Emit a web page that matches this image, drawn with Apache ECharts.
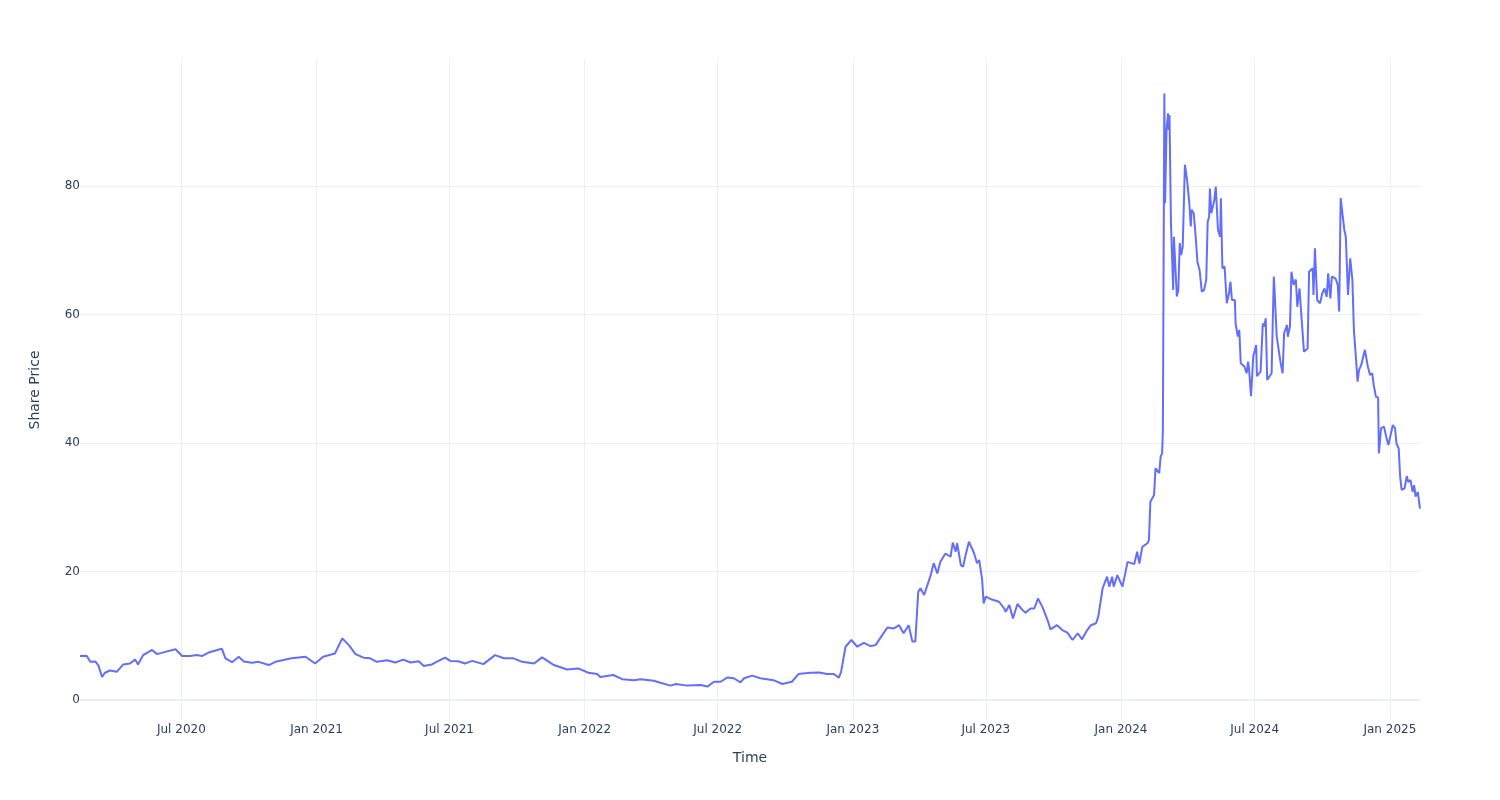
<!DOCTYPE html>
<html>
<head>
<meta charset="utf-8">
<script src="https://cdn.jsdelivr.net/npm/echarts@6/dist/echarts.min.js"></script>
<style>
html,body{margin:0;padding:0;background:#fff;}
#chart{width:1500px;height:800px;}
</style>
</head>
<body>
<div id="chart"></div>
<script>
const dates = [
'2020-02-14','2020-02-23','2020-02-28','2020-03-06','2020-03-10','2020-03-15','2020-03-19','2020-03-26','2020-04-04','2020-04-13',
'2020-04-22','2020-04-29','2020-05-03','2020-05-10','2020-05-22','2020-05-29','2020-06-09','2020-06-23','2020-07-02','2020-07-13',
'2020-07-22','2020-07-29','2020-08-07','2020-08-25','2020-08-30','2020-09-08','2020-09-17','2020-09-24','2020-10-05','2020-10-14',
'2020-10-28','2020-11-06','2020-11-28','2020-12-17','2020-12-30','2021-01-10','2021-01-26','2021-02-05','2021-02-14','2021-02-23',
'2021-03-06','2021-03-15','2021-03-24','2021-04-07','2021-04-18','2021-04-29','2021-05-09','2021-05-20','2021-05-27','2021-06-07',
'2021-06-16','2021-06-25','2021-07-02','2021-07-13','2021-07-22','2021-08-01','2021-08-16','2021-09-01','2021-09-13','2021-09-26',
'2021-10-08','2021-10-24','2021-11-04','2021-11-20','2021-12-08','2021-12-24','2022-01-06','2022-01-18','2022-01-22','2022-02-09',
'2022-02-21','2022-03-09','2022-03-18','2022-04-05','2022-04-14','2022-04-28','2022-05-05','2022-05-21','2022-06-08','2022-06-17',
'2022-06-26','2022-07-05','2022-07-14','2022-07-23','2022-08-01','2022-08-06','2022-08-17','2022-08-28','2022-09-15','2022-09-27',
'2022-10-10','2022-10-19','2022-11-04','2022-11-16','2022-11-27','2022-12-06','2022-12-13','2022-12-16','2022-12-22','2022-12-30',
'2023-01-07','2023-01-16','2023-01-25','2023-02-01','2023-02-10','2023-02-17','2023-02-26','2023-03-05','2023-03-11','2023-03-18',
'2023-03-23','2023-03-27','2023-03-31','2023-04-03','2023-04-08','2023-04-17','2023-04-21','2023-04-26','2023-04-30','2023-05-07',
'2023-05-14','2023-05-17','2023-05-21','2023-05-23','2023-05-28','2023-05-31','2023-06-03','2023-06-08','2023-06-15','2023-06-19',
'2023-06-22','2023-06-26','2023-06-28','2023-07-01','2023-07-08','2023-07-19','2023-07-26','2023-07-28','2023-08-02','2023-08-07',
'2023-08-13','2023-08-20','2023-08-24','2023-08-31','2023-09-05','2023-09-10','2023-09-16','2023-09-23','2023-09-27','2023-10-06',
'2023-10-13','2023-10-20','2023-10-27','2023-11-03','2023-11-09','2023-11-16','2023-11-21','2023-11-28','2023-12-01','2023-12-07',
'2023-12-13','2023-12-16','2023-12-20','2023-12-22','2023-12-27','2024-01-03','2024-01-10','2024-01-19','2024-01-23','2024-01-26',
'2024-01-30','2024-02-06','2024-02-08','2024-02-10','2024-02-15','2024-02-17','2024-02-22','2024-02-24','2024-02-26','2024-02-27',
'2024-02-29','2024-03-01','2024-03-03','2024-03-05','2024-03-06','2024-03-07','2024-03-09','2024-03-12','2024-03-13','2024-03-17',
'2024-03-19','2024-03-21','2024-03-23','2024-03-25','2024-03-28','2024-03-31','2024-04-03','2024-04-05','2024-04-06','2024-04-09',
'2024-04-12','2024-04-14','2024-04-17','2024-04-20','2024-04-23','2024-04-26','2024-04-28','2024-04-30','2024-05-01','2024-05-03',
'2024-05-07','2024-05-09','2024-05-10','2024-05-12','2024-05-15','2024-05-16','2024-05-18','2024-05-21','2024-05-24','2024-05-27',
'2024-05-29','2024-05-31','2024-06-04','2024-06-05','2024-06-08','2024-06-10','2024-06-12','2024-06-17','2024-06-20','2024-06-22',
'2024-06-23','2024-06-26','2024-06-29','2024-07-03','2024-07-04','2024-07-09','2024-07-12','2024-07-14','2024-07-16','2024-07-18',
'2024-07-24','2024-07-27','2024-07-28','2024-07-31','2024-08-05','2024-08-08','2024-08-10','2024-08-14','2024-08-15','2024-08-18',
'2024-08-20','2024-08-23','2024-08-26','2024-08-28','2024-08-31','2024-09-03','2024-09-06','2024-09-11','2024-09-13','2024-09-18',
'2024-09-19','2024-09-21','2024-09-24','2024-09-28','2024-10-01','2024-10-04','2024-10-07','2024-10-09','2024-10-12','2024-10-14',
'2024-10-19','2024-10-22','2024-10-24','2024-10-26','2024-10-31','2024-11-02','2024-11-05','2024-11-08','2024-11-11','2024-11-13',
'2024-11-16','2024-11-18','2024-11-19','2024-11-20','2024-11-23','2024-11-25','2024-11-28','2024-12-02','2024-12-05','2024-12-08',
'2024-12-10','2024-12-13','2024-12-16','2024-12-17','2024-12-20','2024-12-24','2024-12-27','2024-12-30','2025-01-02','2025-01-05',
'2025-01-08','2025-01-10','2025-01-13','2025-01-15','2025-01-17','2025-01-21','2025-01-24','2025-01-26','2025-01-29','2025-02-01',
'2025-02-03','2025-02-05','2025-02-08','2025-02-11'
];
const prices = [
6.85,6.9,5.96,6.0,5.4,3.6,4.25,4.6,4.4,5.55,
5.7,6.3,5.55,7.0,7.8,7.15,7.5,7.9,6.85,6.85,
7.0,6.85,7.4,8.0,6.5,5.9,6.75,6.0,5.8,5.95,
5.45,5.95,6.5,6.75,5.7,6.75,7.25,9.6,8.55,7.15,
6.6,6.5,5.95,6.2,5.85,6.3,5.85,6.05,5.3,5.55,
6.1,6.6,6.1,6.05,5.7,6.1,5.6,7.0,6.5,6.5,
5.95,5.7,6.65,5.45,4.75,4.9,4.25,4.05,3.6,3.9,
3.25,3.1,3.25,3.0,2.7,2.25,2.5,2.25,2.35,2.1,
2.85,2.85,3.5,3.4,2.75,3.4,3.8,3.4,3.1,2.5,
2.85,4.05,4.25,4.3,4.05,4.05,3.5,4.4,8.3,9.35,
8.3,8.9,8.4,8.55,10.1,11.3,11.15,11.65,10.4,11.65,
9.1,9.1,16.85,17.4,16.35,19.45,21.3,19.7,21.5,22.8,
22.3,24.5,23.1,24.4,21.0,20.75,22.3,24.65,22.85,21.3,
21.8,18.7,15.05,16.1,15.7,15.3,14.25,13.75,14.8,12.7,
14.95,14.0,13.6,14.25,14.25,15.8,14.5,12.45,11.0,11.65,
10.9,10.5,9.35,10.4,9.45,10.9,11.65,11.95,12.95,17.4,
19.2,17.65,19.2,17.65,19.45,17.65,21.5,21.15,23.1,21.25,
23.85,24.4,24.9,30.85,31.9,36.05,35.3,37.9,38.4,42.0,
94.4,77.3,88.7,91.3,88.7,91.05,74.2,63.8,72.1,62.8,
63.8,71.1,69.25,70.55,83.3,80.9,77.3,73.7,76.3,75.75,
71.6,68.2,66.9,63.55,63.8,65.35,74.45,75.2,79.6,75.75,
77.8,79.9,80.15,73.15,72.1,78.1,67.2,67.45,61.75,63.3,
65.1,62.25,62.25,58.6,56.55,57.6,52.4,51.9,50.85,52.65,
51.9,47.3,53.45,55.25,50.4,51.1,58.6,58.1,59.4,49.8,
50.85,65.9,63.8,56.55,52.65,50.85,57.05,58.35,56.55,58.1,
66.65,64.6,65.45,61.2,64.05,59.15,54.2,54.7,66.65,67.2,
63.05,70.3,62.25,61.75,63.3,64.05,62.75,66.4,62.5,65.9,
65.6,64.6,60.45,78.1,73.15,72.1,63.05,68.75,65.35,57.6,
52.9,49.55,49.3,51.35,52.15,51.9,54.5,51.9,50.6,50.85,
49.0,47.2,47.1,38.4,42.3,42.55,40.95,39.7,41.25,42.8,
42.3,39.95,39.15,34.75,32.7,32.95,34.85,33.95,34.25,32.4,
33.45,31.65,32.4,29.8
];
const xTickDates = ['2020-07-01','2021-01-01','2021-07-01','2022-01-01','2022-07-01','2023-01-01','2023-07-01','2024-01-01','2024-07-01','2025-01-01'];
const yTickValues = [0, 20, 40, 60, 80];
const monthNames = ['Jan','Feb','Mar','Apr','May','Jun','Jul','Aug','Sep','Oct','Nov','Dec'];

const chart = echarts.init(document.getElementById('chart'), null, {renderer: 'canvas'});
const parse = s => echarts.number.parseDate(s).getTime();
const xTicks = xTickDates.map(parse);
const times = dates.map(parse);
const font = 'DejaVu Sans';
const txt = '#2a3f5f';
const grid = '#EBF0F8';

chart.setOption({
  animation: false,
  backgroundColor: '#fff',
  grid: {left: 80, right: 80, top: 60, bottom: 80, containLabel: false},
  xAxis: {
    type: 'value',
    min: times[0],
    max: times[times.length - 1],
    scale: true,
    name: 'Time',
    nameLocation: 'middle',
    nameGap: 31,
    nameTextStyle: {fontFamily: font, fontSize: 14, color: txt},
    axisLine: {show: false},
    axisTick: {show: false, customValues: xTicks},
    axisLabel: {
      customValues: xTicks,
      margin: 4,
      fontFamily: font, fontSize: 12, color: txt,
      formatter: v => { const d = new Date(v); return monthNames[d.getMonth()] + ' ' + d.getFullYear(); }
    },
    splitLine: {show: true, lineStyle: {color: grid, width: 1}}
  },
  yAxis: {
    type: 'value',
    min: -3.1,
    max: 99.6,
    name: 'Share Price',
    nameLocation: 'middle',
    nameGap: 38,
    nameTextStyle: {fontFamily: font, fontSize: 14, color: txt},
    axisLine: {show: false},
    axisTick: {show: false, customValues: yTickValues},
    axisLabel: {customValues: yTickValues, margin: 0, fontFamily: font, fontSize: 12, color: txt},
    splitLine: {show: true, lineStyle: {color: grid, width: 1}}
  },
  series: [{
    type: 'line',
    data: times.map((t, i) => [t, prices[i]]),
    showSymbol: false,
    symbol: 'none',
    lineStyle: {color: '#636efa', width: 2},
    itemStyle: {color: '#636efa'},
    z: 5,
    markLine: {
      silent: true,
      symbol: ['none', 'none'],
      label: {show: false},
      lineStyle: {color: grid, width: 2, type: 'solid'},
      data: [{yAxis: yTickValues[0]}],
      z: 1
    }
  }]
});
</script>
</body>
</html>
